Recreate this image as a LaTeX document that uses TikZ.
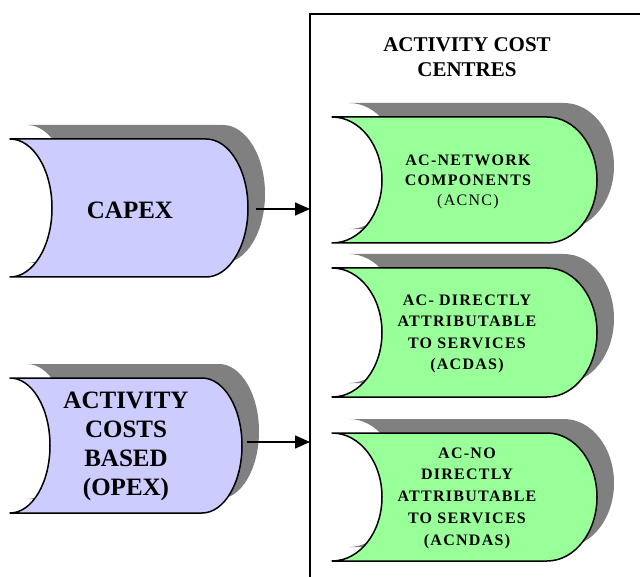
\documentclass[tikz,border=0pt]{standalone}
\usepackage{fontspec}
\setmainfont{Liberation Serif}
\newfontfamily\trackedfont[LetterSpace=8]{Liberation Serif}
\usetikzlibrary{arrows.meta}

\definecolor{lavender}{RGB}{204,204,255}
\definecolor{mint}{RGB}{153,255,153}
\definecolor{shade}{RGB}{128,128,128}

% Stored-data outline: concave left side, convex right side.
% #1 path options, #2 left x, #3 top y, #4 start of right arc, #5 bottom y, #6 arc depth
\newcommand\storedshape[6]{%
  \pgfmathsetmacro\sdym{(#3+#5)/2}%
  \pgfmathsetmacro\sdry{(#5-#3)/2}%
  \pgfmathsetmacro\sdkx{0.5523*#6}%
  \pgfmathsetmacro\sdky{0.5523*\sdry}%
  \path[#1] (#2,#3) -- (#4,#3)
    .. controls ({#4+\sdkx},#3) and ({#4+#6},{\sdym-\sdky}) .. ({#4+#6},\sdym)
    .. controls ({#4+#6},{\sdym+\sdky}) and ({#4+\sdkx},#5) .. (#4,#5)
    -- (#2,#5)
    .. controls ({#2+\sdkx},#5) and ({#2+#6},{\sdym+\sdky}) .. ({#2+#6},\sdym)
    .. controls ({#2+#6},{\sdym-\sdky}) and ({#2+\sdkx},#3) .. (#2,#3) -- cycle;%
}
% shape with its drop shadow
\newcommand\shadowedshape[7]{%
  \begin{scope}[shift={(17,-14)}]
    \storedshape{fill=shade}{#2}{#3}{#4}{#5}{#6}
  \end{scope}
  \storedshape{fill=#7,draw=black,line width=1.5pt,line join=round}{#2}{#3}{#4}{#5}{#6}%
}

\tikzset{
  bigtext/.style={font=\bfseries\fontsize{25}{29}\selectfont, align=center, inner sep=0pt},
  titletext/.style={font=\bfseries\fontsize{21}{25}\selectfont, align=center, inner sep=0pt},
  centretext/.style={font=\trackedfont\bfseries\fontsize{16}{20}\selectfont, align=center, inner sep=0pt},
  feed/.style={line width=1.5pt, -{Triangle[length=15pt,width=13pt]}},
  frame/.style={line width=1.3pt}
}

\begin{document}
\begin{tikzpicture}[x=1pt,y=-1pt]
\useasboundingbox (0,0) rectangle (640,577);

% container of the activity cost centres (runs off the page)
\draw[frame] (310,577) -- (310,14) -- (640,14);
\node[titletext] (title) at (467,57) {ACTIVITY COST\\CENTRES};

% input cost pools
\shadowedshape{}{10}{139}{206}{277}{42}{lavender}
\node[bigtext] (capex) at (130,210) {CAPEX};

\shadowedshape{}{10}{378}{202}{513}{40}{lavender}
\node[bigtext] (opex) at (126,446) {ACTIVITY\\COSTS\\BASED\\(OPEX)};

% activity cost centres
\shadowedshape{}{332}{117}{547}{243}{50}{mint}
\node[centretext] (acnc) at (468,182) {AC-NETWORK\\COMPONENTS\\{\mdseries (ACNC)}};

\shadowedshape{}{332}{268}{547}{397}{50}{mint}
\node[centretext, font=\trackedfont\bfseries\fontsize{16}{21.5}\selectfont] (acdas) at (467,334)
  {AC- DIRECTLY\\ATTRIBUTABLE\\TO SERVICES\\(ACDAS)};

\shadowedshape{}{332}{433}{547}{561}{50}{mint}
\node[centretext, font=\trackedfont\bfseries\fontsize{16}{21.75}\selectfont] (acndas) at (467,498)
  {AC-NO\\DIRECTLY\\ATTRIBUTABLE\\TO SERVICES\\(ACNDAS)};

% flows into the cost centres
\coordinate (capexOut) at (256,209);
\coordinate (capexIn) at (310,209);
\coordinate (opexOut) at (247,442);
\coordinate (opexIn) at (310,442);
\draw[feed] (capexOut) -- (capexIn);
\draw[feed] (opexOut) -- (opexIn);
\end{tikzpicture}
\end{document}
